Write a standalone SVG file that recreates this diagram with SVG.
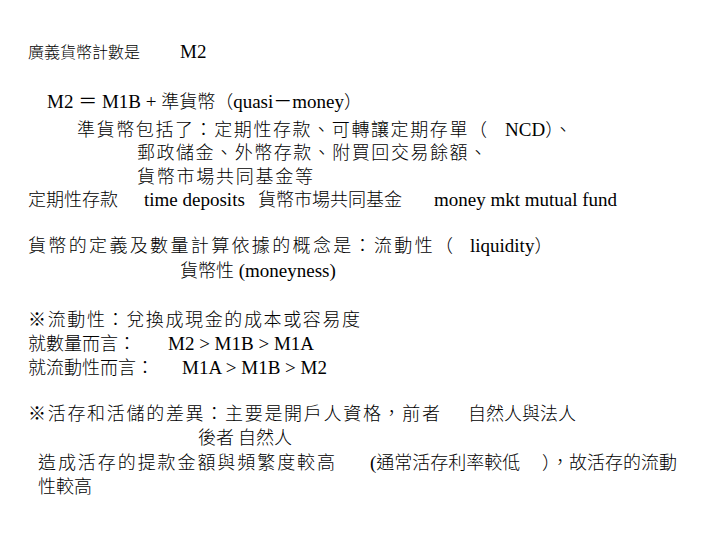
<svg xmlns="http://www.w3.org/2000/svg" width="720" height="540" viewBox="0 0 720 540">
<style>
text{font-family:"Liberation Serif","Noto Sans CJK TC",serif;font-size:19px;fill:#000}
.c{font-family:"Noto Sans CJK TC","Noto Sans CJK SC",sans-serif;font-size:18px;font-weight:300}
</style>
<rect width="720" height="540" fill="#fff"/>
<text x="28" y="58"><tspan class="c" style="font-size:16px">廣義貨幣計數是</tspan><tspan x="180">M2</tspan></text>
<text x="47" y="108">M2 ＝ M1B + <tspan class="c">準貨幣（</tspan>quasi－money<tspan class="c">）</tspan></text>
<text x="77" y="136" class="c" textLength="410">準貨幣包括了：定期性存款、可轉讓定期存單（</text>
<text x="505" y="136">NCD<tspan class="c">）、</tspan></text>
<text x="137" y="159" class="c" textLength="350">郵政儲金、外幣存款、附買回交易餘額、</text>
<text x="137" y="183" class="c" textLength="176">貨幣市場共同基金等</text>
<text x="28" y="206"><tspan class="c">定期性存款</tspan><tspan x="144">time deposits</tspan><tspan x="258" class="c">貨幣市場共同基金</tspan><tspan x="434">money mkt mutual fund</tspan></text>
<text x="28" y="252" class="c" textLength="425">貨幣的定義及數量計算依據的概念是：流動性（</text>
<text x="470" y="252">liquidity<tspan class="c">）</tspan></text>
<text x="180" y="277"><tspan class="c">貨幣性</tspan> (moneyness)</text>
<text x="28" y="326" class="c" textLength="332">※流動性：兌換成現金的成本或容易度</text>
<text x="28" y="350"><tspan class="c">就數量而言：</tspan><tspan x="168">M2 &gt; M1B &gt; M1A</tspan></text>
<text x="28" y="374"><tspan class="c">就流動性而言：</tspan><tspan x="182">M1A &gt; M1B &gt; M2</tspan></text>
<text x="28" y="420" class="c" textLength="412">※活存和活儲的差異：主要是開戶人資格，前者</text>
<text x="468" y="420" class="c">自然人與法人</text>
<text x="198" y="444" class="c">後者 自然人</text>
<text x="38" y="469" class="c" textLength="297">造成活存的提款金額與頻繁度較高</text>
<text x="370" y="469">(<tspan class="c">通常活存利率較低</tspan></text>
<text x="542" y="469" class="c">），故活存的流動</text>
<text x="38" y="493" class="c">性較高</text>
</svg>
